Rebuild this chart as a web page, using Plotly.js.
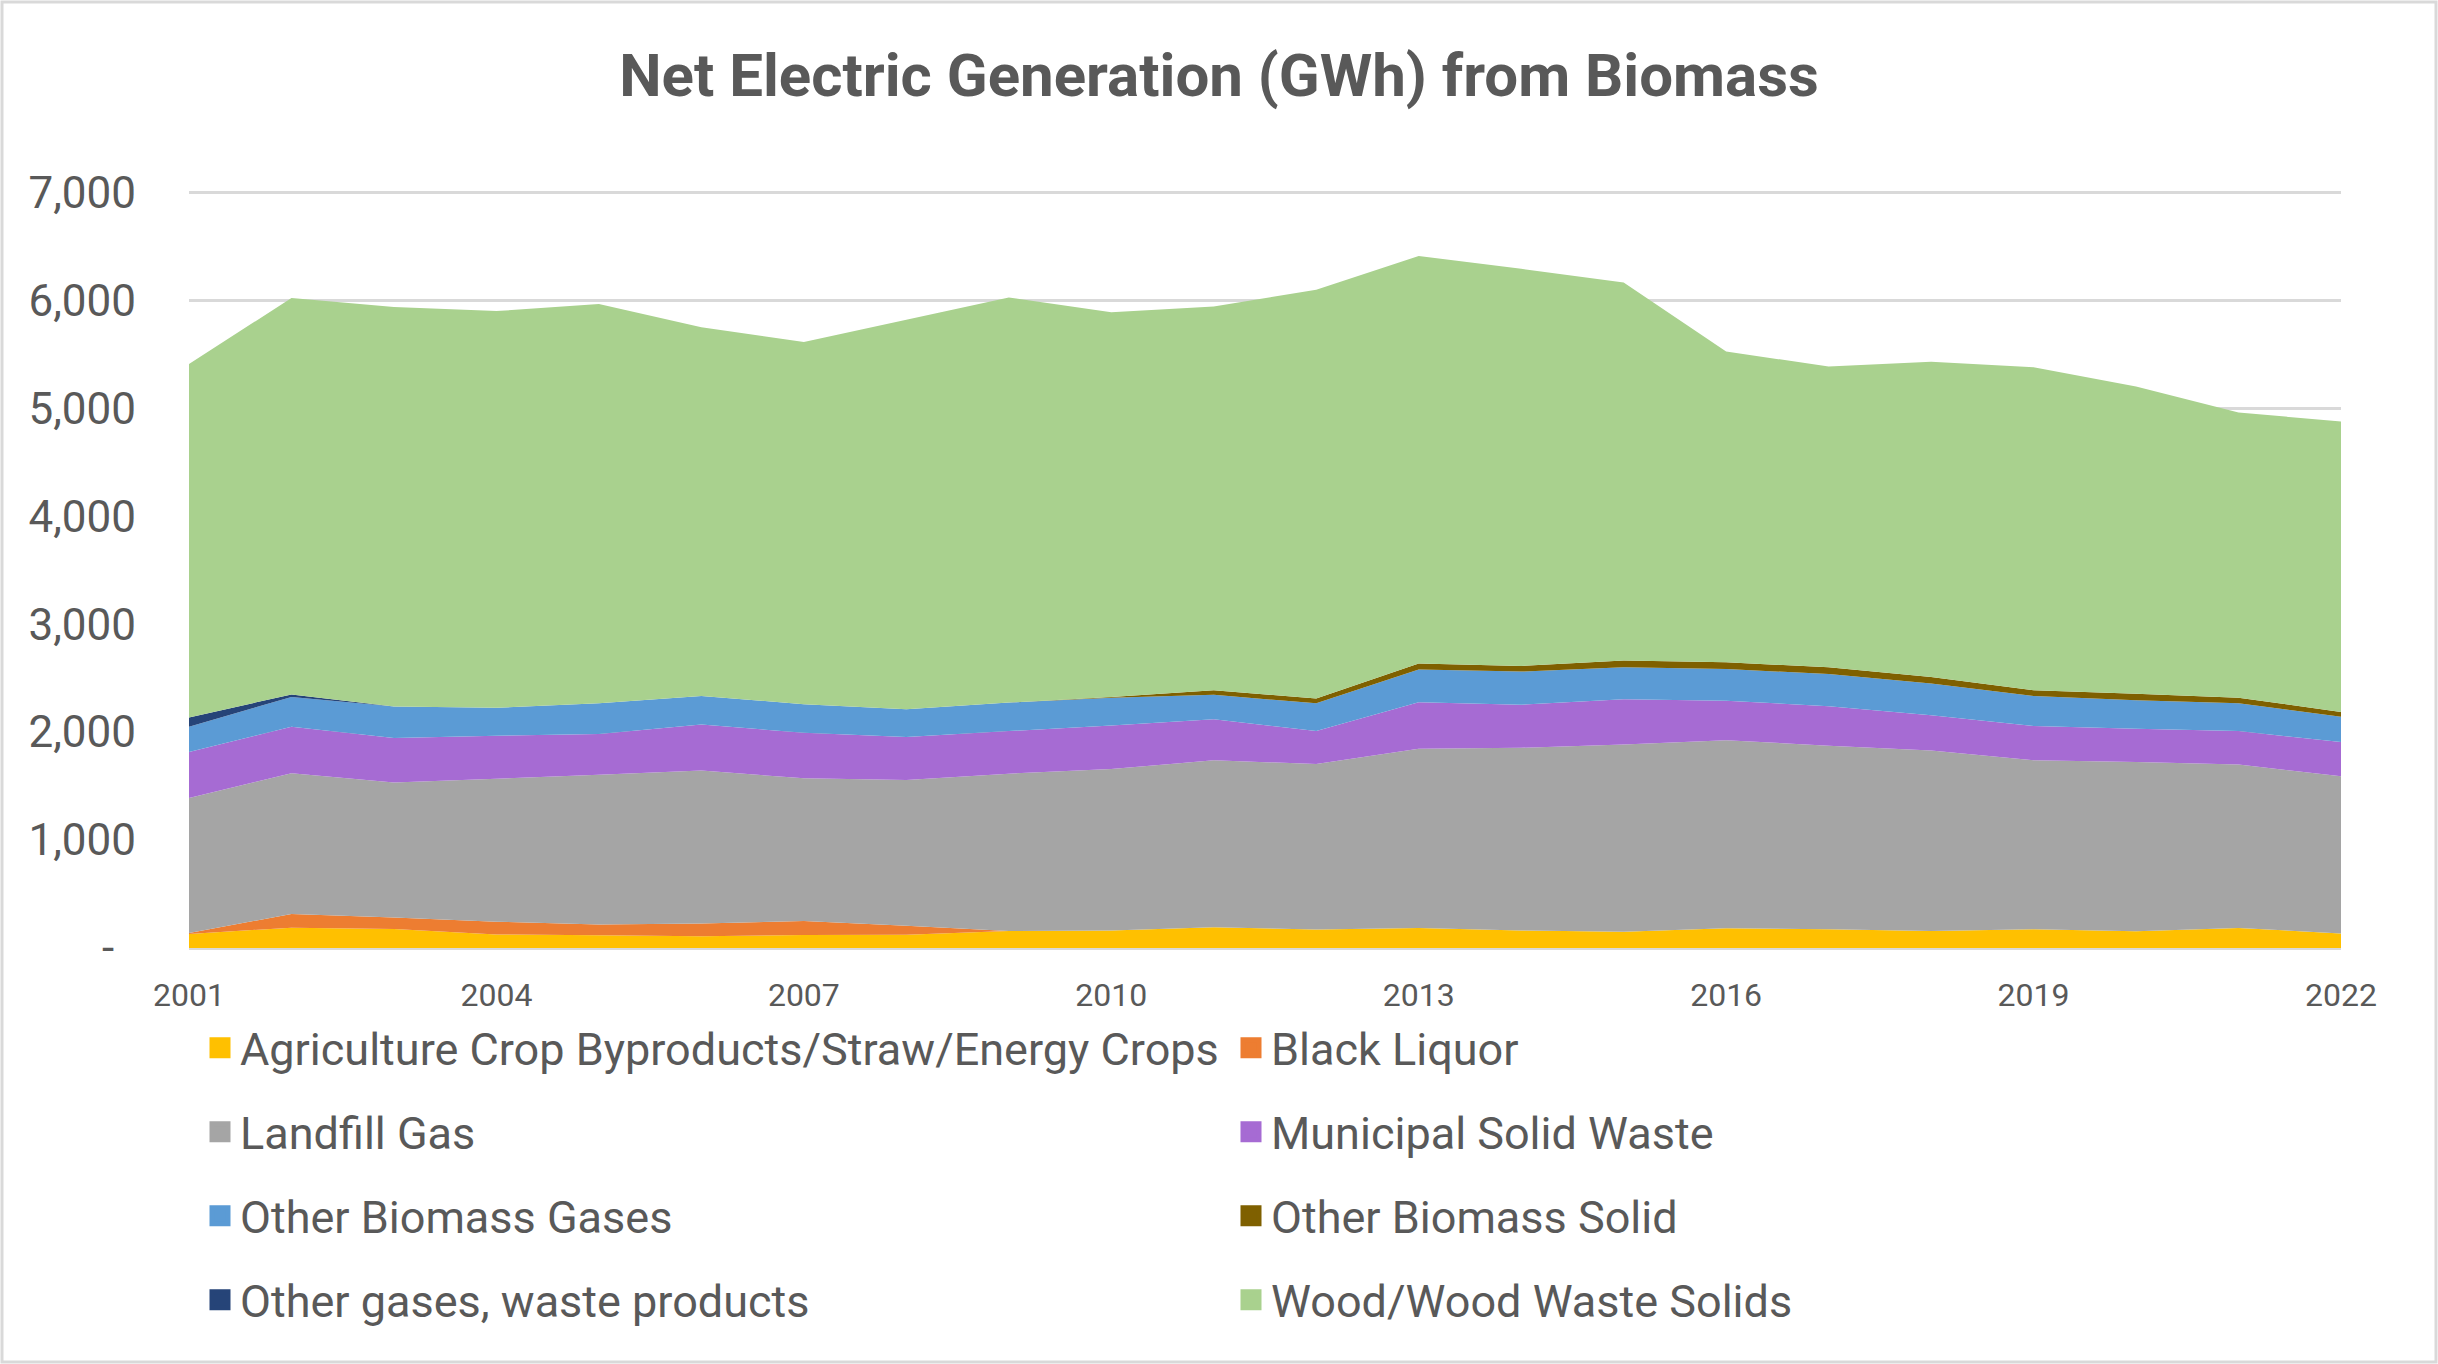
<!DOCTYPE html>
<html>
<head>
<meta charset="utf-8">
<script src="https://cdn.plot.ly/plotly-3.0.1.min.js"></script>
<style>
  html, body { margin: 0; padding: 0; background: #ffffff; }
  #chart { width: 2438px; height: 1364px; }
</style>
</head>
<body>
<div id="chart"></div>
<script>
// ---- Data (GWh) ----
const years = [2001,2002,2003,2004,2005,2006,2007,2008,2009,2010,2011,2012,2013,2014,2015,2016,2017,2018,2019,2020,2021,2022];
const agriculture = [130,188,175,125,117,108,120,122,158,163,193,172,186,163,150,183,173,158,173,155,186,135];
const blackLiquor = [10,127,108,118,101,118,130,83,0,0,0,0,0,0,0,0,0,0,0,0,0,0];
const landfillGas = [1250,1304,1250,1325,1387,1417,1322,1352,1457,1495,1545,1533,1659,1692,1735,1742,1701,1672,1565,1567,1514,1455];
const municipalSolidWaste = [425,431,413,398,377,427,421,398,394,402,380,304,431,398,420,365,366,325,318,309,309,317];
const otherBiomassGases = [235,275,290,259,286,265,265,256,264,257,227,257,303,307,295,294,297,295,277,264,257,235];
const otherBiomassSolid = [0,0,0,0,0,0,0,0,0,8,42,44,56,52,62,62,63,60,54,60,52,44];
const otherGasesWaste = [86,23,0,0,0,0,0,0,0,0,0,0,0,0,0,0,0,0,0,0,0,0];
const woodWasteSolids = [3274,3672,3702,3674,3697,3415,3355,3609,3752,3564,3555,3787,3775,3679,3503,2880,2785,2919,2993,2846,2641,2691];

const seriesNames = [
  "Agriculture Crop Byproducts/Straw/Energy Crops",
  "Black Liquor",
  "Landfill Gas",
  "Municipal Solid Waste",
  "Other Biomass Gases",
  "Other Biomass Solid",
  "Other gases, waste products",
  "Wood/Wood Waste Solids"
];
const seriesValues = [agriculture, blackLiquor, landfillGas, municipalSolidWaste,
  otherBiomassGases, otherBiomassSolid, otherGasesWaste, woodWasteSolids];
const seriesColors = ["#FFC000","#ED7D31","#A5A5A5","#A66BD3","#5B9BD5","#7F6000","#264478","#A9D18E"];

const yTickVals = [0,1000,2000,3000,4000,5000,6000,7000];
const yTickText = ["-\u00a0\u00a0","1,000","2,000","3,000","4,000","5,000","6,000","7,000"];
const xTickVals = [2001,2004,2007,2010,2013,2016,2019,2022];

const FONT = "Roboto, 'Open Sans', sans-serif";
const TXT = "#595959";

const traces = [];
// stacked areas
seriesValues.forEach((vals, i) => {
  traces.push({
    type: "scatter",
    x: years,
    y: vals,
    name: seriesNames[i],
    stackgroup: "one",
    mode: "none",
    fillcolor: seriesColors[i],
    showlegend: false,
    hoverinfo: "x+y+name"
  });
});
// legend proxies (square keys), two per row
const legendIds = ["legend","legend2","legend3","legend4"];
seriesNames.forEach((nm, i) => {
  traces.push({
    type: "scatter",
    x: [null],
    y: [null],
    name: nm,
    mode: "markers",
    marker: { symbol: "square", size: 16, color: seriesColors[i], line: { color: seriesColors[i], width: 6 } },
    showlegend: true,
    legend: legendIds[Math.floor(i / 2)]
  });
});

// plot area: x 189..2341, y 189..948 (px); 7000 gridline at ~192
const rowY = [1048, 1132, 1216, 1300];
const plotTop = 189, plotBottom = 948, plotH = plotBottom - plotTop;
function legendCfg(py) {
  return {
    orientation: "h",
    traceorder: "normal",
    x: 11 / 2152,
    xanchor: "left",
    y: (plotBottom - py) / plotH,
    yanchor: "middle",
    entrywidth: 986,
    entrywidthmode: "pixels",
    font: { family: FONT, size: 45, color: TXT },
    bgcolor: "rgba(0,0,0,0)",
    borderwidth: 0,
    itemclick: false
  };
}

const layout = {
  width: 2438,
  height: 1364,
  paper_bgcolor: "#ffffff",
  plot_bgcolor: "#ffffff",
  margin: { l: 189, r: 97, t: plotTop, b: 1364 - plotBottom, pad: 0 },
  title: {
    text: "<b>Net Electric Generation (GWh) from Biomass</b>",
    font: { family: FONT, size: 60, color: TXT },
    x: 0.5, xref: "container", xanchor: "center",
    y: 1 - 75 / 1364, yref: "container", yanchor: "middle"
  },
  xaxis: {
    type: "linear",
    range: [2001, 2022],
    tickmode: "array",
    tickvals: xTickVals,
    ticktext: xTickVals.map(String),
    showgrid: false,
    zeroline: false,
    showline: true,
    linecolor: "#D9D9D9",
    linewidth: 2,
    ticks: "",
    ticklabelstandoff: 18,
    tickfont: { family: FONT, size: 32, color: TXT },
    fixedrange: true
  },
  yaxis: {
    range: [0, 7030],
    tickmode: "array",
    tickvals: yTickVals,
    ticktext: yTickText,
    showgrid: true,
    gridcolor: "#D9D9D9",
    gridwidth: 3,
    zeroline: false,
    showline: false,
    ticks: "",
    ticklabelstandoff: 52,
    tickfont: { family: FONT, size: 44, color: TXT },
    fixedrange: true
  },
  legend: legendCfg(rowY[0]),
  legend2: legendCfg(rowY[1]),
  legend3: legendCfg(rowY[2]),
  legend4: legendCfg(rowY[3]),
  shapes: [{
    type: "rect", xref: "paper", yref: "paper",
    x0: (2 - 189) / 2152, x1: (2436 - 189) / 2152,
    y0: (plotBottom - 1362) / plotH, y1: (plotBottom - 2) / plotH,
    line: { color: "#D9D9D9", width: 3 }, fillcolor: "rgba(0,0,0,0)", layer: "below"
  }],
  showlegend: true,
  hovermode: "x unified"
};

Plotly.newPlot("chart", traces, layout, { displayModeBar: false, staticPlot: false });
</script>
</body>
</html>
